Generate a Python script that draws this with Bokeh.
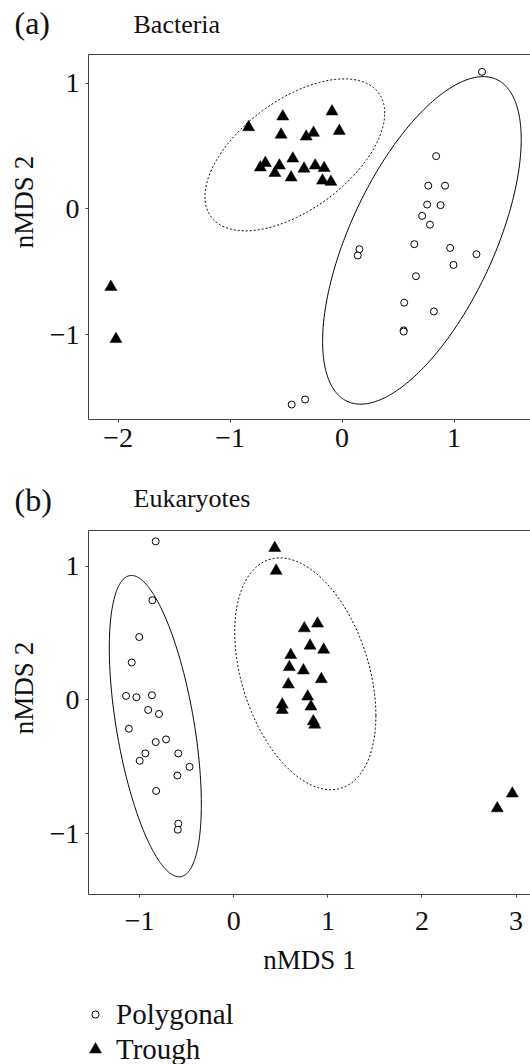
import math
import numpy as np
from bokeh.plotting import figure
from bokeh.models import Label, LinearAxis, FixedTicker, Legend, LegendItem, Range1d
from bokeh.layouts import column, row
from bokeh.embed import file_html
from bokeh.resources import INLINE

FONT = "Liberation Serif"

# ---------------- data ----------------
# Panel (a) Bacteria
bac_poly_x = [1.25, 0.84, 0.77, 0.92, 0.76, 0.88, 0.715, 0.785, 0.155, 0.14, 0.645,
              0.965, 1.20, 0.995, 0.66, 0.555, 0.82, 0.55, 0.55, -0.33, -0.45]
bac_poly_y = [1.09, 0.42, 0.185, 0.185, 0.035, 0.03, -0.055, -0.125, -0.32, -0.37, -0.28,
              -0.31, -0.36, -0.445, -0.535, -0.745, -0.815, -0.965, -0.975, -1.515, -1.555]
bac_trough_x = [-0.835, -0.53, -0.09, -0.545, -0.32, -0.255, -0.025, -0.73, -0.685, -0.56,
                -0.60, -0.44, -0.455, -0.34, -0.24, -0.16, -0.175, -0.10, -2.065, -2.02]
bac_trough_y = [0.65, 0.735, 0.775, 0.59, 0.575, 0.605, 0.62, 0.33, 0.365, 0.345,
                0.285, 0.40, 0.25, 0.32, 0.345, 0.325, 0.225, 0.215, -0.62, -1.035]

# Panel (b) Eukaryotes
euk_poly_x = [-0.83, -0.865, -1.005, -1.085, -1.145, -1.035, -0.87, -0.91, -0.795, -1.115,
              -0.83, -0.72, -0.94, -1.0, -0.59, -0.47, -0.60, -0.825, -0.59, -0.595]
euk_poly_y = [1.185, 0.745, 0.47, 0.28, 0.03, 0.02, 0.035, -0.075, -0.105, -0.215,
              -0.315, -0.295, -0.40, -0.455, -0.40, -0.50, -0.565, -0.68, -0.925, -0.97]
euk_trough_x = [0.435, 0.45, 0.75, 0.89, 0.81, 0.955, 0.605, 0.59, 0.74, 0.93,
                0.58, 0.785, 0.515, 0.515, 0.82, 0.845, 0.86, 2.96, 2.80]
euk_trough_y = [1.135, 0.965, 0.535, 0.57, 0.405, 0.375, 0.335, 0.245, 0.22, 0.155,
                0.115, 0.025, -0.035, -0.075, -0.05, -0.16, -0.185, -0.70, -0.81]

# ellipse parameters: centre x, centre y, sd x, sd y, correlation
bac_poly_ell = [0.713, -0.25, 0.887, 1.302, 0.617]
bac_trough_ell = [-0.422, 0.43, 0.803, 0.604, 0.55]
euk_poly_ell = [-0.834, -0.196, 0.489, 1.126, -0.518]
euk_trough_ell = [0.76, 0.195, 0.75, 0.866, -0.36]

# axes
bac_xticks = [-2, -1, 0, 1]
bac_yticks = [-1, 0, 1]
euk_xticks = [-1, 0, 1, 2, 3]
euk_yticks = [-1, 0, 1]
bac_xrange = (-2.265, 1.683)
bac_yrange = (-1.674, 1.228)
euk_xrange = (-1.544, 3.153)
euk_yrange = (-1.454, 1.266)

panel_letters = ["(a)", "(b)"]
panel_titles = ["Bacteria", "Eukaryotes"]
x_title = "nMDS 1"
y_title = "nMDS 2"
legend_labels = ["Polygonal", "Trough"]

AXIS_COLOR = "#444444"
TEXT_COLOR = "#111111"
W = 530
YL_W = 40


def tick_label(v):
    return ("\u2212" + str(abs(v))) if v < 0 else str(v)


def ellipse(params):
    cx, cy, sx, sy, rho = params
    t = np.linspace(0, 2 * math.pi, 361)
    ex = cx + sx * np.cos(t)
    ey = cy + sy * (rho * np.cos(t) + math.sqrt(1 - rho ** 2) * np.sin(t))
    return ex, ey


def blank_fig(width, height):
    p = figure(width=width, height=height, x_range=Range1d(0, width), y_range=Range1d(0, height),
               output_backend="svg", toolbar_location=None,
               x_axis_location=None, y_axis_location=None, frame_align=False,
               min_border=0, min_border_left=0, min_border_right=0,
               min_border_top=0, min_border_bottom=0, outline_line_color=None)
    p.grid.visible = False
    return p


def add_text(p, text, x, y, size, angle=0.0, align="left"):
    p.add_layout(Label(x=x, y=y, x_units="screen", y_units="screen", text=text,
                       text_font=FONT, text_font_size=size, text_align=align,
                       text_baseline="middle", angle=angle, text_color=TEXT_COLOR))


def header(height, letter, title, y_letter, y_title):
    h = blank_fig(W, height)
    add_text(h, letter, 14, y_letter, "32px")
    add_text(h, title, 133, y_title, "26px")
    return h


def ylabel_fig(height, y_center):
    f = blank_fig(YL_W, height)
    add_text(f, y_title, 23, y_center, "27px", angle=math.pi / 2, align="center")
    return f


def make_panel(height, min_bottom, xr, yr, xticks, yticks, xlab_standoff):
    p = figure(width=W - YL_W, height=height, x_range=Range1d(*xr), y_range=Range1d(*yr),
               output_backend="svg", toolbar_location=None, frame_align=False,
               min_border_left=88 - YL_W, min_border_right=0, min_border_top=6,
               min_border_bottom=min_bottom, outline_line_color=None)
    p.grid.visible = False
    xb = p.xaxis[0]
    yl = p.yaxis[0]
    for ax in (xb, yl):
        ax.axis_line_color = AXIS_COLOR
        ax.major_tick_line_color = AXIS_COLOR
        ax.major_tick_in = 0
        ax.major_tick_out = 3
        ax.minor_tick_line_color = None
        ax.major_label_text_font = FONT
        ax.major_label_text_font_size = "28px"
        ax.major_label_text_color = TEXT_COLOR
    xb.ticker = FixedTicker(ticks=xticks)
    xb.major_label_overrides = {v: tick_label(v) for v in xticks}
    xb.major_label_standoff = xlab_standoff
    yl.ticker = FixedTicker(ticks=yticks)
    yl.major_label_overrides = {v: tick_label(v) for v in yticks}
    yl.major_label_standoff = 6
    yl.major_label_orientation = "horizontal"
    top = LinearAxis(ticker=FixedTicker(ticks=[]), axis_line_color=AXIS_COLOR,
                     major_tick_line_color=None, minor_tick_line_color=None,
                     major_tick_out=0, major_tick_in=0, major_label_standoff=0,
                     major_label_text_font_size="0px")
    p.add_layout(top, "above")
    return p, xb


def draw_data(p, px, py, tx, ty, pell, tell):
    ex, ey = ellipse(pell)
    p.line(ex, ey, line_color="black", line_width=1)
    ex, ey = ellipse(tell)
    p.line(ex, ey, line_color="black", line_width=1, line_dash="2 2")
    p.scatter(px, py, marker="circle", size=7, fill_color="white",
              line_color="black", line_width=1)
    p.scatter(tx, ty, marker="triangle", size=12, fill_color="black",
              line_color="black", line_width=0.5)


# ---------------- panel (a) ----------------
PA_H = 430
hdr_a = header(48, panel_letters[0], panel_titles[0], 26, 24.5)
pa, _ = make_panel(PA_H, 59, bac_xrange, bac_yrange, bac_xticks, bac_yticks, 6)
draw_data(pa, bac_poly_x, bac_poly_y, bac_trough_x, bac_trough_y, bac_poly_ell, bac_trough_ell)
yla = ylabel_fig(PA_H, 276.5)

# ---------------- panel (b) ----------------
PB_H = 470
hdr_b = header(46, panel_letters[1], panel_titles[1], 25, 26.5)
pb, xb = make_panel(PB_H, 100, euk_xrange, euk_yrange, euk_xticks, euk_yticks, 14)
draw_data(pb, euk_poly_x, euk_poly_y, euk_trough_x, euk_trough_y, euk_poly_ell, euk_trough_ell)
xb.axis_label = x_title
xb.axis_label_text_font = FONT
xb.axis_label_text_font_size = "27px"
xb.axis_label_text_font_style = "normal"
xb.axis_label_text_color = TEXT_COLOR
xb.axis_label_standoff = 12
ylb = ylabel_fig(PB_H, 306.5)

# ---------------- legend ----------------
lg = blank_fig(W, 70)
nan = np.array([np.nan])
r_circ = lg.scatter(nan, nan, marker="circle", size=7, fill_color="white",
                    line_color="black", line_width=1)
r_tri = lg.scatter(nan, nan, marker="triangle", size=12, fill_color="black",
                   line_color="black", line_width=0.5)
common = dict(label_text_font=FONT, label_text_font_size="29px", label_text_color=TEXT_COLOR,
              border_line_color=None, background_fill_alpha=0, padding=0, margin=0, spacing=0)
leg1 = Legend(items=[LegendItem(label=legend_labels[0], renderers=[r_circ])], location=(86, 33),
              glyph_width=18, glyph_height=34, label_height=34, label_standoff=12, **common)
leg2 = Legend(items=[LegendItem(label=legend_labels[1], renderers=[r_tri])], location=(80, -2),
              glyph_width=30, glyph_height=34, label_height=34, label_standoff=6, **common)
lg.add_layout(leg1)
lg.add_layout(leg2)

layout = column(hdr_a, row(yla, pa, spacing=0), hdr_b, row(ylb, pb, spacing=0), lg, spacing=0)
open("out.html", "w").write(file_html(layout, INLINE))
